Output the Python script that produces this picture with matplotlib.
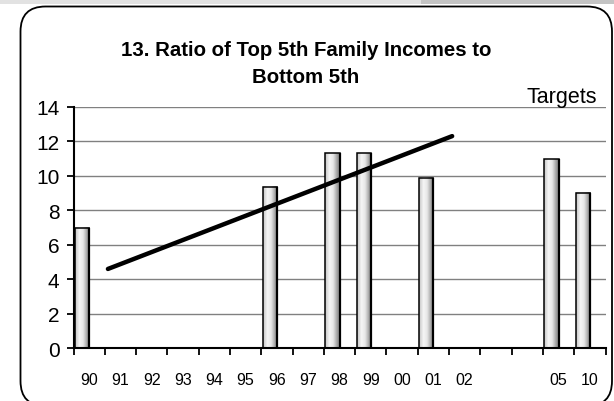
import matplotlib
matplotlib.use("Agg")
import matplotlib.pyplot as plt
import numpy as np
from matplotlib.colors import LinearSegmentedColormap
from matplotlib.patches import FancyBboxPatch, Rectangle
from matplotlib.transforms import IdentityTransform

# ---- data ----
categories = ['90', '91', '92', '93', '94', '95', '96', '97', '98', '99',
              '00', '01', '02', '', '', '05', '10']
bar_categories = ['90', '96', '98', '99', '01', '05', '10']
bar_values = [7.0, 9.35, 11.3, 11.3, 9.9, 10.95, 9.0]
line_categories = ['91', '02']
line_values = [4.6, 12.3]
yticks = [0, 2, 4, 6, 8, 10, 12, 14]
title = "13. Ratio of Top 5th Family Incomes to\nBottom 5th"
note = "Targets"

plt.rcParams['font.family'] = ['Liberation Sans', 'DejaVu Sans']

W, H = 614, 402
fig = plt.figure(figsize=(W / 100, H / 100), dpi=100)
fig.patch.set_facecolor('white')

# top gray band
fig.add_artist(Rectangle((0, H - 5), 421, 5, transform=IdentityTransform(),
                         facecolor='#e2e2e2', edgecolor='none'))
fig.add_artist(Rectangle((421, H - 5), W - 421, 5, transform=IdentityTransform(),
                         facecolor='#c4c4c4', edgecolor='none'))
# rounded border
fig.add_artist(FancyBboxPatch((20.5, -5), 591.5, H - 7 + 5 - 0.5,
                              boxstyle="round,pad=0,rounding_size=25",
                              transform=IdentityTransform(),
                              facecolor='none', edgecolor='black', linewidth=1.3))

left, right, top, bottom = 73.5, 605.5, 107.8, 349.3
ax = fig.add_axes([left / W, 1 - bottom / H, (right - left) / W, (bottom - top) / H])
ax.set_facecolor('none')

n = len(categories)
cmap = LinearSegmentedColormap.from_list(
    'cyl', [(0.0, '#c4c4c4'), (0.3, '#f6f6f6'), (0.55, '#e6e6e6'),
            (0.85, '#9a9a9a'), (1.0, '#8a8a8a')])
grad = np.linspace(0, 1, 64).reshape(1, -1)

bw = 0.45
x0off = 0.05
for c, v in zip(bar_categories, bar_values):
    i = categories.index(c)
    xa, xb = i + x0off, i + x0off + bw
    ax.imshow(grad, cmap=cmap, extent=(xa, xb, 0, v), aspect='auto',
              zorder=2, interpolation='bilinear')
    ax.add_patch(Rectangle((xa, 0), bw, v, facecolor='none',
                           edgecolor='black', linewidth=1.1, zorder=3))
    ax.plot([xb, xb], [0, v], color='black', linewidth=1.6, zorder=3,
            solid_capstyle='butt')

lx = [categories.index(c) + 0.1 for c in line_categories]
ax.plot(lx, line_values, color='black', linewidth=3.2,
        solid_capstyle='round', zorder=4)

ax.set_xlim(0, n)
ax.set_ylim(0, 14)
ax.set_yticks(yticks)
ax.set_yticklabels([str(t) for t in yticks], fontsize=15)
ax.yaxis.grid(True, color='#808080', linewidth=1.0)
ax.set_axisbelow(True)

ax.set_xticks(np.arange(0, n + 1))
ax.set_xticklabels([])
ax.set_xticks(np.arange(n) + 0.5, minor=True)
ax.set_xticklabels(categories, minor=True, fontsize=11.5)
ax.tick_params(axis='x', which='major', direction='out', length=5, width=1.3)
ax.tick_params(axis='x', which='minor', length=0, pad=17)
ax.tick_params(axis='y', direction='out', length=5, width=1.3, pad=5)

for s in ['top', 'right']:
    ax.spines[s].set_visible(False)
for s in ['left', 'bottom']:
    ax.spines[s].set_linewidth(1.5)
    ax.spines[s].set_zorder(5)

fig.text(306 / W, 1 - 64 / H, title, ha='center', va='center',
         fontsize=14.7, fontweight='bold', linespacing=1.58)
fig.text(597 / W, 1 - 97 / H, note, ha='right', va='center', fontsize=15.5)

fig.savefig('out.png', dpi=100)
